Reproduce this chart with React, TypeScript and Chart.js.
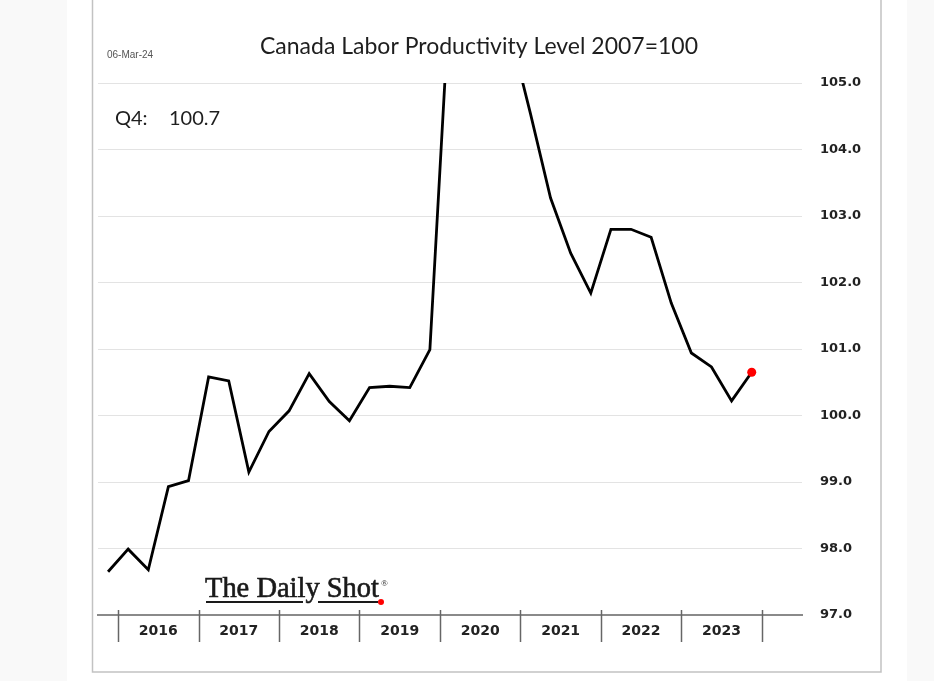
import React, { useEffect, useRef } from "react";
import { Chart, registerables } from "chart.js";

Chart.register(...registerables);

const quarterLabels = [
  "2015Q4",
  "2016Q1", "2016Q2", "2016Q3", "2016Q4",
  "2017Q1", "2017Q2", "2017Q3", "2017Q4",
  "2018Q1", "2018Q2", "2018Q3", "2018Q4",
  "2019Q1", "2019Q2", "2019Q3", "2019Q4",
  "2020Q1", "2020Q2", "2020Q3", "2020Q4",
  "2021Q1", "2021Q2", "2021Q3", "2021Q4",
  "2022Q1", "2022Q2", "2022Q3", "2022Q4",
  "2023Q1", "2023Q2", "2023Q3", "2023Q4",
  "2024Q1", "2024Q2",
];

const productivity: (number | null)[] = [
  97.65,
  97.99, 97.68, 98.93, 99.02,
  100.58, 100.52, 99.15, 99.76,
  100.07, 100.63, 100.21, 99.92,
  100.42, 100.44, 100.42, 100.99,
  106.4, 111.5, 107.5, 105.75,
  104.54, 103.27, 102.44, 101.84,
  102.8, 102.8, 102.68, 101.69,
  100.94, 100.73, 100.22, 100.65,
  null, null,
];

const yearLabels = ["2016", "2017", "2018", "2019", "2020", "2021", "2022", "2023"];
const yearBoundaries = ["2016", "2017", "2018", "2019", "2020", "2021", "2022", "2023", "2024"];

const yMin = 97;
const yMax = 105;
const yStep = 1;

const titleText = "Canada Labor Productivity Level 2007=100";
const dateText = "06-Mar-24";
const latestLabel = "Q4:";
const latestValue = "100.7";
const lastIndex = 32;

const decorPlugin = {
  id: "decor",
  beforeDraw(chart: any) {
    const { ctx, width, height } = chart;
    ctx.save();
    ctx.fillStyle = "#f9f9f9";
    ctx.fillRect(0, 0, width, height);
    ctx.fillStyle = "#ffffff";
    ctx.fillRect(67, 0, 840, height);
    ctx.strokeStyle = "#c2c2c2";
    ctx.lineWidth = 1.5;
    ctx.strokeRect(92.5, -5, 788.5, 677);

    ctx.fillStyle = "#555";
    ctx.font = "10px 'Liberation Sans'";
    ctx.textAlign = "left";
    ctx.textBaseline = "middle";
    ctx.fillText(dateText, 107, 55);

    ctx.fillStyle = "#1e1e1e";
    ctx.font = "23px Lato";
    ctx.textAlign = "center";
    ctx.fillText(titleText, 479, 47);

    ctx.font = "20px Lato";
    ctx.textAlign = "left";
    ctx.fillText(latestLabel, 115, 119);
    ctx.fillText(latestValue, 169, 119);
    ctx.restore();
  },
  afterDraw(chart: any) {
    const { ctx } = chart;
    const x = chart.scales.x;
    ctx.save();
    // year boundary ticks
    ctx.strokeStyle = "#666";
    ctx.lineWidth = 1.5;
    const boundaryPx = (year: string) => {
      const i = quarterLabels.indexOf(year + "Q1");
      return (x.getPixelForValue(i - 1) + x.getPixelForValue(i)) / 2;
    };
    yearBoundaries.forEach((yr) => {
      const px = Math.round(boundaryPx(yr)) + 0.5;
      ctx.beginPath();
      ctx.moveTo(px, 610);
      ctx.lineTo(px, 642);
      ctx.stroke();
    });
    // year labels
    ctx.fillStyle = "#222";
    ctx.font = "bold 14px 'DejaVu Sans'";
    ctx.textAlign = "center";
    ctx.textBaseline = "middle";
    yearLabels.forEach((yr) => {
      const i2 = quarterLabels.indexOf(yr + "Q2");
      const i3 = quarterLabels.indexOf(yr + "Q3");
      const cx = (x.getPixelForValue(i2) + x.getPixelForValue(i3)) / 2;
      ctx.fillText(yr, cx, 631);
    });

    // logo
    const logo = "The Daily Shot";
    ctx.fillStyle = "#1a1a1a";
    ctx.textAlign = "left";
    ctx.textBaseline = "alphabetic";
    let size = 27;
    ctx.font = `${size}px 'Liberation Serif'`;
    const w = ctx.measureText(logo).width;
    size = size * (174 / w);
    ctx.font = `${size}px 'Liberation Serif'`;
    ctx.fillText(logo, 205, 597);
    ctx.strokeStyle = "#1a1a1a";
    ctx.lineWidth = 0.6;
    ctx.strokeText(logo, 205, 597);
    ctx.font = "9px 'Liberation Serif'";
    ctx.fillText("®", 381, 586);
    ctx.lineWidth = 2;
    ctx.beginPath();
    ctx.moveTo(206, 602);
    ctx.lineTo(303, 602);
    ctx.moveTo(318, 602);
    ctx.lineTo(378, 602);
    ctx.stroke();
    ctx.fillStyle = "#ff0000";
    ctx.beginPath();
    ctx.arc(381, 602, 3, 0, Math.PI * 2);
    ctx.fill();
    ctx.restore();
  },
};

export default function App() {
  const canvasRef = useRef<HTMLCanvasElement | null>(null);

  useEffect(() => {
    if (!canvasRef.current) return;
    const chart = new Chart(canvasRef.current, {
      type: "line",
      data: {
        labels: quarterLabels,
        datasets: [
          {
            data: productivity,
            borderColor: "#000000",
            borderWidth: 2.8,
            tension: 0,
            spanGaps: false,
            pointRadius: (c: any) => (c.dataIndex === lastIndex ? 4.5 : 0),
            pointBackgroundColor: "#ff0000",
            pointBorderColor: "#ff0000",
            pointBorderWidth: 0,
            pointHoverRadius: 0,
          },
        ],
      },
      options: {
        responsive: false,
        animation: false,
        devicePixelRatio: 1,
        layout: { padding: { left: 98, top: 83, right: 0, bottom: 0 } },
        plugins: {
          legend: { display: false },
          title: { display: false },
          tooltip: { enabled: false },
        },
        scales: {
          x: {
            type: "category",
            offset: true,
            grid: { display: false, drawTicks: false },
            border: { display: true, color: "#8a8a8a", width: 2 },
            ticks: { display: false },
            afterFit: (scale: any) => {
              scale.height = 66;
            },
          },
          y: {
            position: "right",
            min: yMin,
            max: yMax,
            grid: { color: "#e3e3e3", lineWidth: 1, drawTicks: false },
            border: { display: false },
            ticks: {
              stepSize: yStep,
              padding: 18,
              color: "#222",
              font: { family: "'DejaVu Sans'", weight: "bold", size: 13 },
              callback: (v: any) => Number(v).toFixed(1),
            },
            afterFit: (scale: any) => {
              scale.width = 132;
            },
          },
        },
      },
      plugins: [decorPlugin],
    });
    return () => chart.destroy();
  }, []);

  return (
    <div style={{ position: "fixed", left: 0, top: 0, width: 934, height: 681 }}>
      <canvas ref={canvasRef} width={934} height={681} style={{ width: 934, height: 681, display: "block" }} />
    </div>
  );
}
